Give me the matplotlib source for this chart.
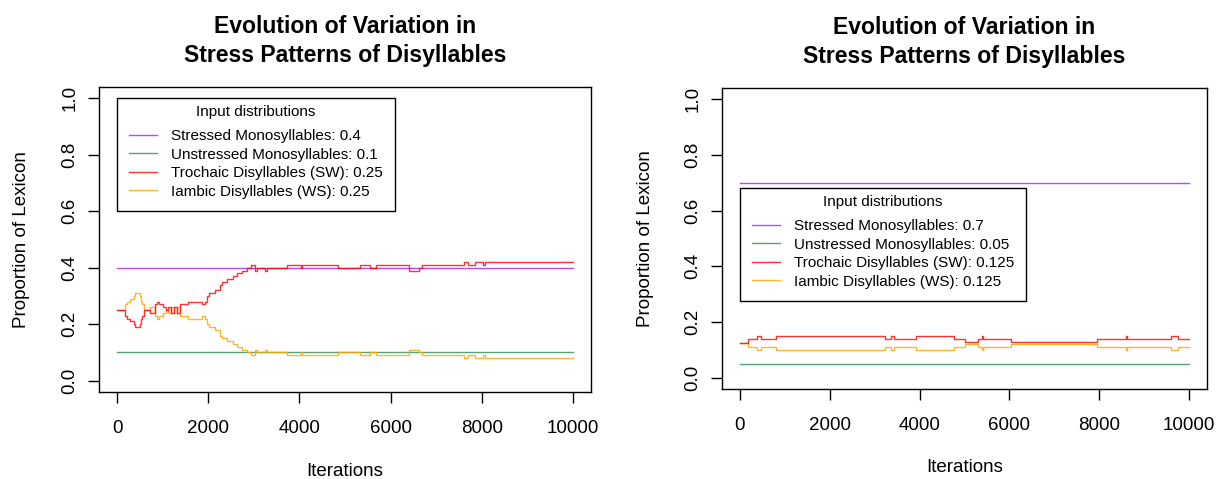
import matplotlib
matplotlib.use('Agg')
import matplotlib.pyplot as plt
from matplotlib.lines import Line2D

plt.rcParams['font.family'] = ['Liberation Sans', 'DejaVu Sans']

# data
n_iterations = 10000
series_names = ['Stressed Monosyllables', 'Unstressed Monosyllables',
                'Trochaic Disyllables (SW)', 'Iambic Disyllables (WS)']
series_colors = ['#A020F0', '#2E8B57', '#FF0000', '#FFA500']
title_text = 'Evolution of Variation in\nStress Patterns of Disyllables'

# left run: inputs 0.4 / 0.1 / 0.25 / 0.25
left_inputs = [0.4, 0.1, 0.25, 0.25]
left_iters = [0, 180, 220, 290, 360, 400, 490, 520, 545, 580, 710, 830, 870,
              910, 1010, 1060, 1110, 1170, 1240, 1310, 1380, 1560, 1860, 1930,
              1970, 2010, 2150, 2260, 2300, 2400, 2550, 2630, 2730, 2840, 2930,
              3030, 3070, 3250, 3290, 3720, 4030, 4060, 4850, 5330, 5550, 5690,
              6410, 6630, 6680, 7600, 7700, 7850, 8030, 8070]
left_trochaic = [0.25, 0.23, 0.22, 0.21, 0.20, 0.19, 0.20, 0.22, 0.23, 0.25,
                 0.24, 0.27, 0.28, 0.27, 0.26, 0.25, 0.26, 0.24, 0.26, 0.24,
                 0.27, 0.28, 0.27, 0.28, 0.30, 0.31, 0.32, 0.34, 0.35, 0.36,
                 0.37, 0.38, 0.39, 0.40, 0.41, 0.39, 0.40, 0.39, 0.40, 0.41,
                 0.40, 0.41, 0.40, 0.41, 0.40, 0.41, 0.39, 0.40, 0.41, 0.42,
                 0.41, 0.42, 0.41, 0.42]
left_iambic = [0.25, 0.27, 0.28, 0.29, 0.30, 0.31, 0.30, 0.28, 0.27, 0.25,
               0.26, 0.23, 0.22, 0.23, 0.24, 0.25, 0.24, 0.26, 0.24, 0.26,
               0.23, 0.22, 0.23, 0.22, 0.20, 0.19, 0.18, 0.16, 0.15, 0.14,
               0.13, 0.12, 0.11, 0.10, 0.09, 0.11, 0.10, 0.11, 0.10, 0.09,
               0.10, 0.09, 0.10, 0.09, 0.10, 0.09, 0.11, 0.10, 0.09, 0.08,
               0.09, 0.08, 0.09, 0.08]

# right run: inputs 0.7 / 0.05 / 0.125 / 0.125
right_inputs = [0.7, 0.05, 0.125, 0.125]
right_iters = [0, 170, 370, 460, 795, 3230, 3360, 3435, 3930, 4770, 5010,
               5300, 5395, 5420, 6045, 7960, 8600, 8625, 9605, 9755]
right_trochaic = [0.125, 0.14, 0.15, 0.14, 0.15, 0.14, 0.15, 0.14, 0.15, 0.14,
                  0.13, 0.14, 0.15, 0.14, 0.13, 0.14, 0.15, 0.14, 0.15, 0.14]
right_iambic = [0.125, 0.11, 0.10, 0.11, 0.10, 0.11, 0.10, 0.11, 0.10, 0.11,
                0.12, 0.11, 0.10, 0.11, 0.12, 0.11, 0.10, 0.11, 0.10, 0.11]


def draw_panel(ax, inputs, iters, trochaic, iambic, legend_pos):
    xs = iters + [n_iterations]
    lw = 1.0
    a = 0.8
    # constant monosyllable proportions
    ax.plot([0, n_iterations], [inputs[0], inputs[0]], color=series_colors[0], lw=lw, alpha=a)
    ax.plot([0, n_iterations], [inputs[1], inputs[1]], color=series_colors[1], lw=lw, alpha=a)
    ax.step(xs, iambic + [iambic[-1]], where='post', color=series_colors[3], lw=lw, alpha=a)
    ax.step(xs, trochaic + [trochaic[-1]], where='post', color=series_colors[2], lw=lw, alpha=a)

    ax.set_xlim(-400, 10400)
    ax.set_ylim(-0.04, 1.04)
    ax.set_xticks([0, 2000, 4000, 6000, 8000, 10000])
    ax.set_yticks([0.0, 0.2, 0.4, 0.6, 0.8, 1.0])
    ax.set_yticklabels(['0.0', '0.2', '0.4', '0.6', '0.8', '1.0'])
    ax.tick_params(direction='out', length=8, width=1, labelsize=13.5, colors='black')
    ax.tick_params(axis='x', pad=12)
    ax.tick_params(axis='y', pad=7)
    for lab in ax.get_yticklabels():
        lab.set_rotation(90)
        lab.set_va('center')
    for sp in ax.spines.values():
        sp.set_linewidth(1.0)
        sp.set_color('black')

    ax.set_xlabel('Iterations', fontsize=13.5)
    ax.set_ylabel('Proportion of Lexicon', fontsize=13.5)
    ax.xaxis.set_label_coords(0.5, -0.232)
    ax.yaxis.set_label_coords(-0.14, 0.5)
    ax.set_title(title_text, fontsize=16.6, fontweight='bold', pad=18, linespacing=1.36)

    handles = [Line2D([0], [1], color=c, lw=lw, alpha=a) for c in series_colors]
    labels = ['%s: %s' % (n, v) for n, v in zip(series_names, inputs)]
    leg = ax.legend(handles, labels, title='Input distributions', loc='upper left',
                    bbox_to_anchor=legend_pos, fontsize=11, title_fontsize=11,
                    frameon=True, fancybox=False, edgecolor='black', framealpha=1,
                    handlelength=1.8, handletextpad=0.9, labelspacing=0.3,
                    borderpad=0.45, borderaxespad=0)
    leg.get_frame().set_linewidth(1.0)
    # extra room round the entries, like the R legend box
    leg._legend_handle_box.pad = 4


fig = plt.figure(figsize=(12.21, 4.79), dpi=100)
ax1 = fig.add_axes([0.0811, 0.1816, 0.403, 0.6368])
ax2 = fig.add_axes([0.5913, 0.1879, 0.3972, 0.6284])

draw_panel(ax1, left_inputs, left_iters, left_trochaic, left_iambic, (0.0366, 0.964))
draw_panel(ax2, right_inputs, right_iters, right_trochaic, right_iambic, (0.037, 0.668))

fig.savefig('out.png', dpi=100)
